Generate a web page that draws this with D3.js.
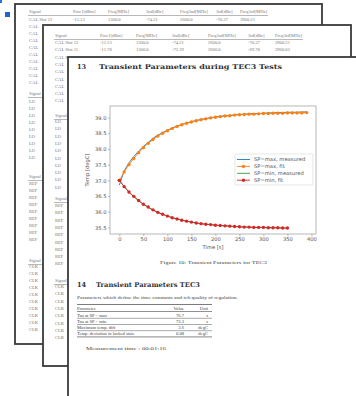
<!DOCTYPE html>
<html>
<head>
<meta charset="utf-8">
<script src="https://cdn.jsdelivr.net/npm/d3@7"></script>
<style>
body { margin: 0; background: #fff; }
svg { display: block; }
</style>
</head>
<body>
<div id="chart"></div>
<script>
// ---- data ----
let tableHead = ["Signal", "Pow1[dBm]", "Freq[MHz]", "2nd[dBc]", "Freq2nd[MHz]", "3rd[dBc]", "Freq3rd[MHz]"];
let calRows = [
  ["CAL Slot 12", "-11.13", "1300.0", "-74.21", "2600.0", "-70.37", "3900.21"],
  ["CAL Slot 11", "-11.78", "1300.0", "-72.39", "2600.0", "-69.78", "3900.02"],
  ["CAL Slot 10", "-10.94", "1300.0", "-70.14", "2600.0", "-69.88", "3900.08"]
];

let tMax = [0, 10, 20, 30, 40, 50, 60, 70, 80, 90, 100, 110, 120, 130, 140, 150, 160, 170, 180, 190,
            200, 210, 220, 230, 240, 250, 260, 270, 280, 290, 300, 310, 320, 330, 340, 350, 360, 370, 380, 390];
let maxMeasured = [36.85, 37.30, 37.56, 37.76, 37.93, 38.08, 38.21, 38.34, 38.44, 38.52, 38.60, 38.67, 38.73, 38.78, 38.83,
                   38.87, 38.91, 38.94, 38.97, 39.00, 39.02, 39.04, 39.06, 39.07, 39.09, 39.10, 39.11, 39.12, 39.13, 39.13,
                   39.14, 39.15, 39.15, 39.16, 39.16, 39.17, 39.17, 39.17, 39.18, 39.18];
let maxFit = [37.00, 37.27, 37.50, 37.70, 37.88, 38.04, 38.18, 38.30, 38.41, 38.50, 38.58, 38.65, 38.72, 38.77, 38.82,
              38.86, 38.90, 38.93, 38.96, 38.99, 39.01, 39.03, 39.05, 39.06, 39.08, 39.09, 39.10, 39.11, 39.11, 39.12,
              39.13, 39.13, 39.14, 39.14, 39.14, 39.15, 39.15, 39.15, 39.15, 39.16];

let tMin = [0, 10, 20, 30, 40, 50, 60, 70, 80, 90, 100, 110, 120, 130, 140, 150, 160, 170, 180, 190,
            200, 210, 220, 230, 240, 250, 260, 270, 280, 290, 300, 310, 320, 330, 340, 350];
let minMeasured = [37.00, 36.80, 36.62, 36.48, 36.35, 36.24, 36.14, 36.05, 35.98, 35.92, 35.86, 35.81, 35.77, 35.73, 35.70,
                   35.67, 35.64, 35.62, 35.60, 35.59, 35.57, 35.56, 35.55, 35.54, 35.53, 35.52, 35.51, 35.51, 35.50, 35.50,
                   35.50, 35.49, 35.49, 35.49, 35.48, 35.48];
let minFit = [37.00, 36.80, 36.63, 36.49, 36.36, 36.24, 36.15, 36.06, 35.98, 35.92, 35.86, 35.81, 35.77, 35.73, 35.70,
              35.67, 35.64, 35.62, 35.60, 35.59, 35.57, 35.56, 35.55, 35.54, 35.53, 35.52, 35.51, 35.51, 35.50, 35.50,
              35.50, 35.49, 35.49, 35.49, 35.48, 35.48];

let seriesNames = ["SP=max, measured", "SP=max, fit", "SP=min, measured", "SP=min, fit"];
let seriesColors = ["#1f77b4", "#ff7f0e", "#2ca02c", "#d62728"];
let xTicks = [0, 50, 100, 150, 200, 250, 300, 350, 400];
let yTicks = [35.5, 36.0, 36.5, 37.0, 37.5, 38.0, 38.5, 39.0];

let paramNames = ["Tau at SP = max", "Tau at SP = min", "Maximum temp. diff", "Temp. deviation in locked state"];
let paramValues = ["76.7", "73.3", "3.6", "0.08"];
let paramUnits = ["s", "s", "degC", "degC"];

let width = 356,
    height = 396;

let svg = d3.select("#chart").append("svg")
    .attr("width", width)
    .attr("height", height);

// little blue marks top left
svg.append("rect").attr("x", 0).attr("y", 0).attr("width", 2).attr("height", 3).attr("fill", "#2a6fd6");
svg.append("rect").attr("x", 5).attr("y", 12).attr("width", 5).attr("height", 5).attr("fill", "#1e64d0");

// ---- back pages with tables ----
// only the parts that are not covered by the next sheet get text
function drawSheet(box, cols, groups, step, fullRows) {
  let g = svg.append("g");
  g.append("rect")
    .attr("x", box.x).attr("y", box.y)
    .attr("width", box.w).attr("height", box.h)
    .attr("fill", "#fff")
    .attr("stroke", "#3a3a3a")
    .attr("stroke-width", 1.8);

  groups.forEach((grp, gi) => {
    let head = gi == 0 ? tableHead : tableHead.slice(0, 1);
    g.selectAll(null)
      .data(head)
      .enter().append("text")
      .attr("x", (d, i) => cols[i])
      .attr("y", grp.y)
      .attr("font-family", "Liberation Serif")
      .attr("font-size", 4.6)
      .attr("fill", "#777")
      .text(d => d);
    g.append("line")
      .attr("x1", cols[0] - 1).attr("x2", cols[6] + 28)
      .attr("y1", grp.y + 2.5).attr("y2", grp.y + 2.5)
      .attr("stroke", "#888").attr("stroke-width", 0.6);

    for (let i = 0; i < grp.n; i++) {
      let r = (gi == 0 && i < fullRows) ? calRows[i] : [grp.name];
      g.selectAll(null)
        .data(r)
        .enter().append("text")
        .attr("x", (d, j) => cols[j])
        .attr("y", grp.y + grp.first + i * step)
        .attr("font-family", "Liberation Serif")
        .attr("font-size", 4.6)
        .attr("fill", "#777")
        .text(d => d);
    }
  });
}

drawSheet({x: 15, y: 4, w: 307, h: 340}, [29, 73, 108, 146, 180, 216, 240],
  [{y: 13, name: "CAL", n: 10, first: 8}, {y: 95, name: "LO", n: 9, first: 8},
   {y: 178, name: "REF", n: 9, first: 7}, {y: 262, name: "CLK", n: 10, first: 6}], 7, 1);

drawSheet({x: 43, y: 25, w: 308, h: 341}, [55, 100, 136, 172, 208, 248, 275],
  [{y: 37, name: "CAL", n: 9, first: 7}, {y: 117, name: "LO", n: 10, first: 6},
   {y: 200, name: "REF", n: 9, first: 7}, {y: 282, name: "CLK", n: 8, first: 6}], 7.3, 3);

// ---- front page ----
let page = svg.append("g");
page.append("rect")
  .attr("x", 68).attr("y", 57)
  .attr("width", 320).attr("height", 360)
  .attr("fill", "#fff")
  .attr("stroke", "#3a3a3a")
  .attr("stroke-width", 1.8);

function docText(x, y, str, size, opts) {
  opts = opts || {};
  let t = page.append("text")
    .attr("x", x).attr("y", y)
    .attr("font-family", opts.family || "Liberation Serif")
    .attr("font-size", size)
    .attr("fill", opts.fill || "#444")
    .attr("font-weight", opts.bold ? "bold" : "normal")
    .attr("text-anchor", opts.anchor || "start")
    .text(str);
  if (opts.len) t.attr("textLength", opts.len).attr("lengthAdjust", "spacingAndGlyphs");
  return t;
}

docText(77, 69, "13", 6.6, {bold: true, fill: "#333", family: "DejaVu Serif"});
docText(99, 69, "Transient Parameters during TEC3 Tests", 6.6, {bold: true, fill: "#333", family: "DejaVu Serif", len: 183});

// ---- chart ----
let x = d3.scaleLinear().domain([-19.5, 409.5]).range([110, 316]);
let y = d3.scaleLinear().domain([35.29, 39.37]).range([234, 106]);

let chart = page.append("g").attr("font-family", "DejaVu Sans");

chart.append("g")
  .attr("transform", "translate(0,234)")
  .call(d3.axisBottom(x).tickValues(xTicks).tickSize(2).tickPadding(1.5))
  .call(a => a.select(".domain").remove())
  .call(a => a.selectAll("line").attr("stroke", "#888").attr("stroke-width", 0.6))
  .call(a => a.selectAll("text").attr("font-size", 5.2).attr("fill", "#555").attr("font-family", "DejaVu Sans"));

chart.append("g")
  .attr("transform", "translate(110,0)")
  .call(d3.axisLeft(y).tickValues(yTicks).tickFormat(d3.format(".1f")).tickSize(2).tickPadding(1.5))
  .call(a => a.select(".domain").remove())
  .call(a => a.selectAll("line").attr("stroke", "#888").attr("stroke-width", 0.6))
  .call(a => a.selectAll("text").attr("font-size", 5.2).attr("fill", "#555").attr("font-family", "DejaVu Sans"));

chart.append("rect")
  .attr("x", 110).attr("y", 106)
  .attr("width", 206).attr("height", 128)
  .attr("fill", "none")
  .attr("stroke", "#999")
  .attr("stroke-width", 0.7);

chart.append("text")
  .attr("x", 213).attr("y", 249)
  .attr("text-anchor", "middle")
  .attr("font-size", 5.2)
  .attr("fill", "#555")
  .text("Time [s]");

chart.append("text")
  .attr("transform", "translate(89,170) rotate(-90)")
  .attr("text-anchor", "middle")
  .attr("font-size", 5.2)
  .attr("fill", "#555")
  .text("Temp [degC]");

let series = [
  {t: tMax, v: maxMeasured, marker: false},
  {t: tMax, v: maxFit, marker: true},
  {t: tMin, v: minMeasured, marker: false},
  {t: tMin, v: minFit, marker: true}
];

let line = d3.line().x(d => x(d[0])).y(d => y(d[1]));

series.forEach((s, i) => {
  let pts = s.t.map((t, k) => [t, s.v[k]]);
  chart.append("path")
    .attr("d", line(pts))
    .attr("fill", "none")
    .attr("stroke", seriesColors[i])
    .attr("stroke-width", 0.9);
  if (s.marker) {
    chart.append("g").selectAll("circle")
      .data(pts)
      .enter().append("circle")
      .attr("cx", d => x(d[0]))
      .attr("cy", d => y(d[1]))
      .attr("r", 1.7)
      .attr("fill", seriesColors[i]);
  }
});

// legend
let legend = chart.append("g");
legend.append("rect")
  .attr("x", 235).attr("y", 154)
  .attr("width", 78).attr("height", 31)
  .attr("rx", 1)
  .attr("fill", "#fff")
  .attr("fill-opacity", 0.85)
  .attr("stroke", "#ccc")
  .attr("stroke-width", 0.5);

seriesNames.forEach((name, i) => {
  let ly = 159.5 + i * 6.9;
  legend.append("line")
    .attr("x1", 237).attr("x2", 250)
    .attr("y1", ly).attr("y2", ly)
    .attr("stroke", seriesColors[i])
    .attr("stroke-width", 0.9);
  if (series[i].marker) {
    legend.append("circle")
      .attr("cx", 243.5).attr("cy", ly).attr("r", 1.7)
      .attr("fill", seriesColors[i]);
  }
  legend.append("text")
    .attr("x", 254).attr("y", ly + 1.8)
    .attr("font-size", 5.2)
    .attr("fill", "#555")
    .text(name);
});

// ---- text below chart ----
docText(213.5, 264, "Figure 10: Transient Parameters for TEC3", 4.6, {anchor: "middle", len: 107});

docText(77, 287, "14", 6.6, {bold: true, fill: "#333", family: "DejaVu Serif"});
docText(96, 287, "Transient Parameters TEC3", 6.6, {bold: true, fill: "#333", family: "DejaVu Serif", len: 104});

docText(77, 299, "Parameters which define the time constants and teh quality of regulation.", 4.6, {len: 161});

// parameter table
page.append("line").attr("x1", 77).attr("x2", 212).attr("y1", 304.5).attr("y2", 304.5)
  .attr("stroke", "#444").attr("stroke-width", 0.7);
docText(77, 309.5, "Parameter", 4.6);
docText(184, 309.5, "Value", 4.6, {anchor: "end"});
docText(208, 309.5, "Unit", 4.6, {anchor: "end"});
page.append("line").attr("x1", 77).attr("x2", 212).attr("y1", 311.5).attr("y2", 311.5)
  .attr("stroke", "#444").attr("stroke-width", 0.6);

paramNames.forEach((p, i) => {
  let ry = 316.5 + i * 6.2;
  docText(77, ry, p, 4.6);
  docText(184, ry, paramValues[i], 4.6, {anchor: "end"});
  docText(208, ry, paramUnits[i], 4.6, {anchor: "end"});
  page.append("line").attr("x1", 77).attr("x2", 212)
    .attr("y1", ry + 1.8).attr("y2", ry + 1.8)
    .attr("stroke", "#555").attr("stroke-width", i == paramNames.length - 1 ? 0.7 : 0.5);
});

docText(86, 350, "Measurement time : 00:01:16", 4.6, {len: 80});
</script>
</body>
</html>
